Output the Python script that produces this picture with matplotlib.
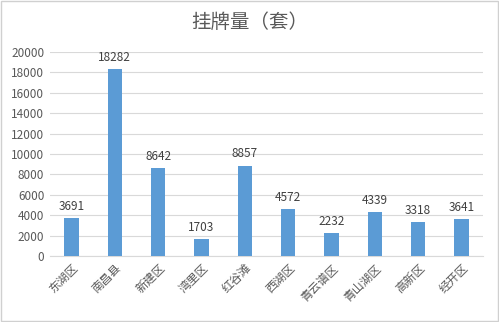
import matplotlib.pyplot as plt

plt.rcParams['font.family'] = ['Noto Sans CJK SC', 'DejaVu Sans']

districts = ['东湖区', '南昌县', '新建区', '湾里区', '红谷滩', '西湖区', '青云谱区', '青山湖区', '高新区', '经开区']
listings = [3691, 18282, 8642, 1703, 8857, 4572, 2232, 4339, 3318, 3641]
yticks = [0, 2000, 4000, 6000, 8000, 10000, 12000, 14000, 16000, 18000, 20000]

fig = plt.figure(figsize=(4.99, 3.22), dpi=100)
ax = fig.add_axes([0.1, 0.205, 0.868, 0.634])

x = range(len(districts))
bars = ax.bar(x, listings, width=0.33, color='#5B9BD5', zorder=3)

# value labels above bars
for xi, v in zip(x, listings):
    ax.text(xi, v + 500, str(v), ha='center', va='bottom', fontsize=8.5, color='#404040')

ax.set_xlim(-0.5, len(districts) - 0.5)
ax.set_ylim(0, 20000)
ax.set_yticks(yticks)
ax.set_yticklabels([str(t) for t in yticks], fontsize=8.5, color='#595959')
ax.set_xticks(list(x))
ax.set_xticklabels(districts, rotation=45, ha='right', rotation_mode='anchor',
                   fontsize=8.5, color='#595959')
ax.tick_params(axis='both', length=0, pad=4)
ax.grid(axis='y', color='#D9D9D9', linewidth=0.8, zorder=0)
for s in ['top', 'right', 'left']:
    ax.spines[s].set_visible(False)
ax.spines['bottom'].set_color('#D9D9D9')

fig.text(0.5, 0.93, '挂牌量（套）', ha='center', va='center', fontsize=14, color='#595959')

# light frame round the picture
fig.patches.append(plt.Rectangle((0.002, 0.003), 0.996, 0.994, transform=fig.transFigure,
                                 fill=False, edgecolor='#D0D0D0', linewidth=1))

fig.savefig('out.png', dpi=100)
